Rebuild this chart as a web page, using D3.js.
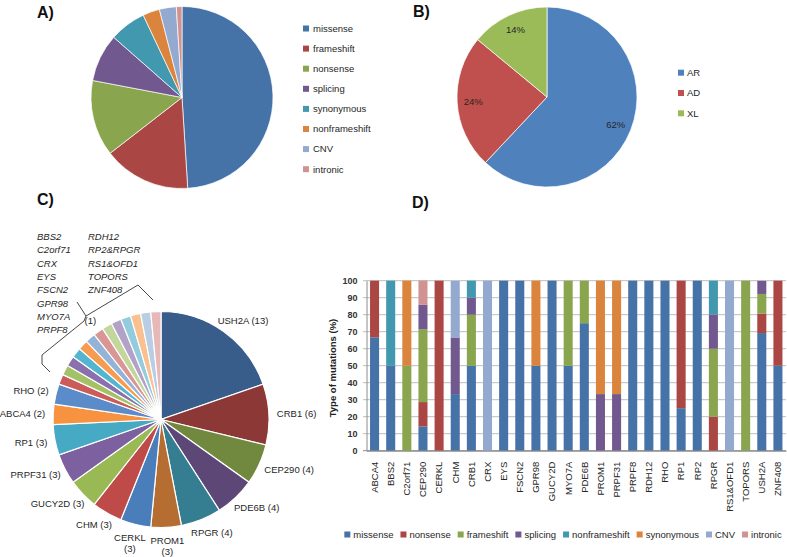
<!DOCTYPE html>
<html><head><meta charset="utf-8">
<script src="https://cdn.jsdelivr.net/npm/d3@7"></script>
<style>
body{margin:0;background:#fff;}
svg{display:block;font-family:"Liberation Sans",Arial,sans-serif;}
</style></head>
<body>
<svg id="c" width="787" height="557"></svg>
<script>
// ---------- DATA ----------
// Panel A: mutation types (%)
const typesA = ["missense","frameshift","nonsense","splicing","synonymous","nonframeshift","CNV","intronic"];
const valuesA = [49, 15.5, 13.5, 8.5, 6.5, 3, 3, 1];
const colorsA = ["#4572A7","#AA4643","#89A54E","#71588F","#4198AF","#DB843D","#93A9CF","#D19392"];

// Panel B: inheritance (%)
const modesB = ["AR","AD","XL"];
const valuesB = [62, 24, 14];
const colorsB = ["#4F81BD","#C0504D","#9BBB59"];

// Panel C: genes (number of patients)
const genesC = ["USH2A","CRB1","CEP290","PDE6B","RPGR","PROM1","CERKL","CHM","GUCY2D","PRPF31","RP1","ABCA4","RHO",
  "BBS2","C2orf71","CRX","EYS","FSCN2","GPR98","MYO7A","PRPF8","RDH12","RP2&RPGR","RS1&OFD1","TOPORS","ZNF408"];
const countsC = [13,6,4,4,4,3,3,3,3,3,3,2,2, 1,1,1,1,1,1,1,1,1,1,1,1,1];
const colorsC = ["#385D8A","#8C3836","#71893F","#5C4776","#357D91","#B66D31",
  "#4A7EBB","#BE4B48","#98B954","#7D60A0","#46AAC5","#F69240",
  "#5B8BC9","#CB5C59","#A3C266","#8B70AE","#53B5CF","#F79B50",
  "#95B3D7","#D99694","#C3D69B","#B3A2C7","#93CDDD","#FAC090","#B9CDE5","#E6B9B8"];
const singlesCol1 = ["BBS2","C2orf71","CRX","EYS","FSCN2","GPR98","MYO7A","PRPF8"];
const singlesCol2 = ["RDH12","RP2&RPGR","RS1&OFD1","TOPORS","ZNF408"];

// Panel D: type of mutations per gene (%)
const genesD = ["ABCA4","BBS2","C2orf71","CEP290","CERKL","CHM","CRB1","CRX","EYS","FSCN2","GPR98","GUCY2D","MYO7A",
  "PDE6B","PROM1","PRPF31","PRPF8","RDH12","RHO","RP1","RP2","RPGR","RS1&OFD1","TOPORS","USH2A","ZNF408"];
const seriesD = ["missense","nonsense","frameshift","splicing","nonframeshift","synonymous","CNV","intronic"];
const colorsD = ["#4572A7","#AA4643","#89A54E","#71588F","#4198AF","#DB843D","#93A9CF","#D19392"];
const missenseD      = [66.7,50,0,14.3,0,33.3,50,0,100,100,50,100,50,75,0,0,100,100,100,25,100,0,0,0,69.2,50];
const nonsenseD      = [33.3,0,0,14.3,100,0,0,0,0,0,0,0,0,0,0,0,0,0,0,75,0,20,0,0,11.5,50];
const frameshiftD    = [0,0,50,42.9,0,0,30,0,0,0,0,0,50,25,0,0,0,0,0,0,0,40,0,100,11.5,0];
const splicingD      = [0,0,0,14.3,0,33.3,10,0,0,0,0,0,0,0,33.3,33.3,0,0,0,0,0,20,0,0,7.7,0];
const nonframeshiftD = [0,50,0,0,0,0,10,0,0,0,0,0,0,0,0,0,0,0,0,0,0,20,0,0,0,0];
const synonymousD    = [0,0,50,0,0,0,0,0,0,0,50,0,0,0,66.7,66.7,0,0,0,0,0,0,0,0,0,0];
const cnvD           = [0,0,0,0,0,33.3,0,100,0,0,0,0,0,0,0,0,0,0,0,0,0,0,100,0,0,0];
const intronicD      = [0,0,0,14.3,0,0,0,0,0,0,0,0,0,0,0,0,0,0,0,0,0,0,0,0,0,0];
const yTicksD = [0,10,20,30,40,50,60,70,80,90,100];

// ---------- DRAW ----------
const svg = d3.select("#c");
const txt = "#262626";

function panelLabel(t,x,y){
  svg.append("text").attr("x",x).attr("y",y).attr("font-size",16).attr("font-weight","bold")
    .attr("fill","#111").text(t);
}
panelLabel("A)",37,18);
panelLabel("B)",413,17);
panelLabel("C)",37,205);
panelLabel("D)",412,208);

// ---- Pie A ----
(function(){
  const g = svg.append("g").attr("transform","translate(182,97.5)");
  const pie = d3.pie().sort(null).value(d=>d);
  const arc = d3.arc().innerRadius(0).outerRadius(91);
  g.selectAll("path").data(pie(valuesA)).join("path")
    .attr("d",arc).attr("fill",(d,i)=>colorsA[i]).attr("stroke","#fff").attr("stroke-width",0.7);
  const lg = svg.append("g");
  typesA.forEach((t,i)=>{
    const y = 28.5 + i*20.1;
    lg.append("rect").attr("x",303).attr("y",y-3).attr("width",6).attr("height",6).attr("fill",colorsA[i]);
    lg.append("text").attr("x",313).attr("y",y+3.3).attr("font-size",9.5).attr("fill",txt).text(t);
  });
})();

// ---- Pie B ----
(function(){
  const g = svg.append("g").attr("transform","translate(547,97)");
  const pie = d3.pie().sort(null).value(d=>d);
  const arc = d3.arc().innerRadius(0).outerRadius(90);
  const lab = d3.arc().innerRadius(74).outerRadius(74);
  const arcs = pie(valuesB);
  g.selectAll("path").data(arcs).join("path")
    .attr("d",arc).attr("fill",(d,i)=>colorsB[i]).attr("stroke","#fff").attr("stroke-width",0.7);
  g.selectAll("text").data(arcs).join("text")
    .attr("transform",d=>`translate(${lab.centroid(d)})`).attr("text-anchor","middle").attr("dy","0.35em")
    .attr("font-size",9.5).attr("fill",txt).text(d=>d.data+"%");
  modesB.forEach((t,i)=>{
    const y = 72.7 + i*20.3;
    svg.append("rect").attr("x",678).attr("y",y-3).attr("width",6).attr("height",6).attr("fill",colorsB[i]);
    svg.append("text").attr("x",687).attr("y",y+3.3).attr("font-size",9.5).attr("fill",txt).text(t);
  });
})();

// ---- Pie C ----
(function(){
  const cx=161, cy=419.5, r=108;
  const g = svg.append("g").attr("transform",`translate(${cx},${cy})`);
  const pie = d3.pie().sort(null).value(d=>d);
  const arc = d3.arc().innerRadius(0).outerRadius(r);
  const arcs = pie(countsC);
  g.selectAll("path").data(arcs).join("path")
    .attr("d",arc).attr("fill",(d,i)=>colorsC[i]).attr("stroke","#fff").attr("stroke-width",1.2);
  const fs = 9.5, R = 116;
  function place(label, a, wrap){
    const t = g.append("text").attr("font-size",fs).attr("fill",txt).attr("text-anchor","middle");
    let lines = wrap ? label.split(" ") : [label];
    lines.forEach((l,k)=>t.append("tspan").attr("x",0).attr("dy",k? 11:0).text(l));
    const bb = t.node().getBBox();
    const w = bb.width, h = lines.length*11;
    const px = R*Math.sin(a), py = -R*Math.cos(a);
    const bx = px + (w/2)*Math.sin(a), by = py - (h/2)*Math.cos(a);
    const y0 = by - h/2 + 5.5 + fs*0.35;
    t.attr("transform",`translate(${bx},${y0})`);
  }
  const nMain = countsC.filter(v=>v>1).length;
  arcs.slice(0,nMain).forEach((d,i)=>{
    const a = (d.startAngle+d.endAngle)/2;
    place(`${genesC[i]} (${countsC[i]})`, a, Math.abs(Math.sin(a))<0.3);
  });
  const grp = arcs.slice(nMain);
  const aG = (grp[0].startAngle + grp[grp.length-1].endAngle)/2;
  place("(1)", aG, false);
  // list of single genes
  singlesCol1.forEach((s,i)=>svg.append("text").attr("x",37).attr("y",240+i*13.33)
    .attr("font-size",9.5).attr("font-style","italic").attr("fill",txt).text(s));
  singlesCol2.forEach((s,i)=>svg.append("text").attr("x",88).attr("y",240+i*13.33)
    .attr("font-size",9.5).attr("font-style","italic").attr("fill",txt).text(s));
  svg.append("path").attr("d","M153,300 L138,285 L86,316 L77,302 M86,316 L84,321 L42,355 L42,364 L50,372")
    .attr("fill","none").attr("stroke","#333").attr("stroke-width",0.9);
})();

// ---- Bar chart D ----
(function(){
  const x = d3.scaleBand().domain(genesD).range([366.5,786]).paddingInner(0.44).paddingOuter(0.22);
  const y = d3.scaleLinear().domain([0,100]).range([450.7,280.7]);
  const cols = [missenseD,nonsenseD,frameshiftD,splicingD,nonframeshiftD,synonymousD,cnvD,intronicD];
  const rows = genesD.map((gname,i)=>{const o={gene:gname}; seriesD.forEach((s,k)=>o[s]=cols[k][i]); return o;});
  const stack = d3.stack().keys(seriesD)(rows);
  // grid
  const grid = svg.append("g");
  yTicksD.forEach(t=>{
    grid.append("line").attr("x1",363).attr("x2",786).attr("y1",y(t)).attr("y2",y(t))
      .attr("stroke", t===0? "#8c8c8c":"#BDBDBD").attr("stroke-width",1);
  });
  const ya = svg.append("g").attr("transform","translate(366.5,0)")
    .call(d3.axisLeft(y).tickValues(yTicksD).tickSize(0).tickPadding(9));
  ya.select(".domain").attr("stroke","#8c8c8c");
  ya.selectAll("text").attr("font-size",9).attr("font-weight","bold").attr("fill","#333")
    .attr("font-family","Liberation Sans, Arial, sans-serif");
  svg.append("text").attr("transform","translate(335.5,368) rotate(-90)").attr("text-anchor","middle")
    .attr("font-size",9.5).attr("font-weight","bold").attr("fill","#222").text("Type of mutations (%)");
  svg.append("g").selectAll("g").data(stack).join("g").attr("fill",(d,i)=>colorsD[i])
    .selectAll("rect").data(d=>d).join("rect")
    .attr("x",d=>x(d.data.gene)).attr("width",x.bandwidth())
    .attr("y",d=>y(d[1])).attr("height",d=>Math.max(0,y(d[0])-y(d[1])));
  const xa = svg.append("g").attr("transform","translate(0,450.7)")
    .call(d3.axisBottom(x).tickSize(0).tickPadding(0));
  xa.select(".domain").attr("stroke","#8c8c8c");
  xa.selectAll("text").attr("font-size",9.5).attr("fill",txt).attr("font-family","Liberation Sans, Arial, sans-serif")
    .attr("text-anchor","end").attr("transform","rotate(-90)").attr("x",-11).attr("y",0).attr("dy","0.35em");
  // legend
  const lg = svg.append("g");
  let cur = 0; const items=[];
  seriesD.forEach((s,i)=>{
    const it = lg.append("g").attr("transform",`translate(${cur},0)`);
    it.append("rect").attr("x",0).attr("y",-3).attr("width",6).attr("height",6).attr("fill",colorsD[i]);
    const t = it.append("text").attr("x",9).attr("y",3.4).attr("font-size",9.5).attr("fill",txt).text(s);
    cur += 9 + t.node().getComputedTextLength() + 7;
  });
  const total = cur - 7;
  lg.attr("transform",`translate(${563 - total/2},534.5)`);
})();
</script>
</body></html>
